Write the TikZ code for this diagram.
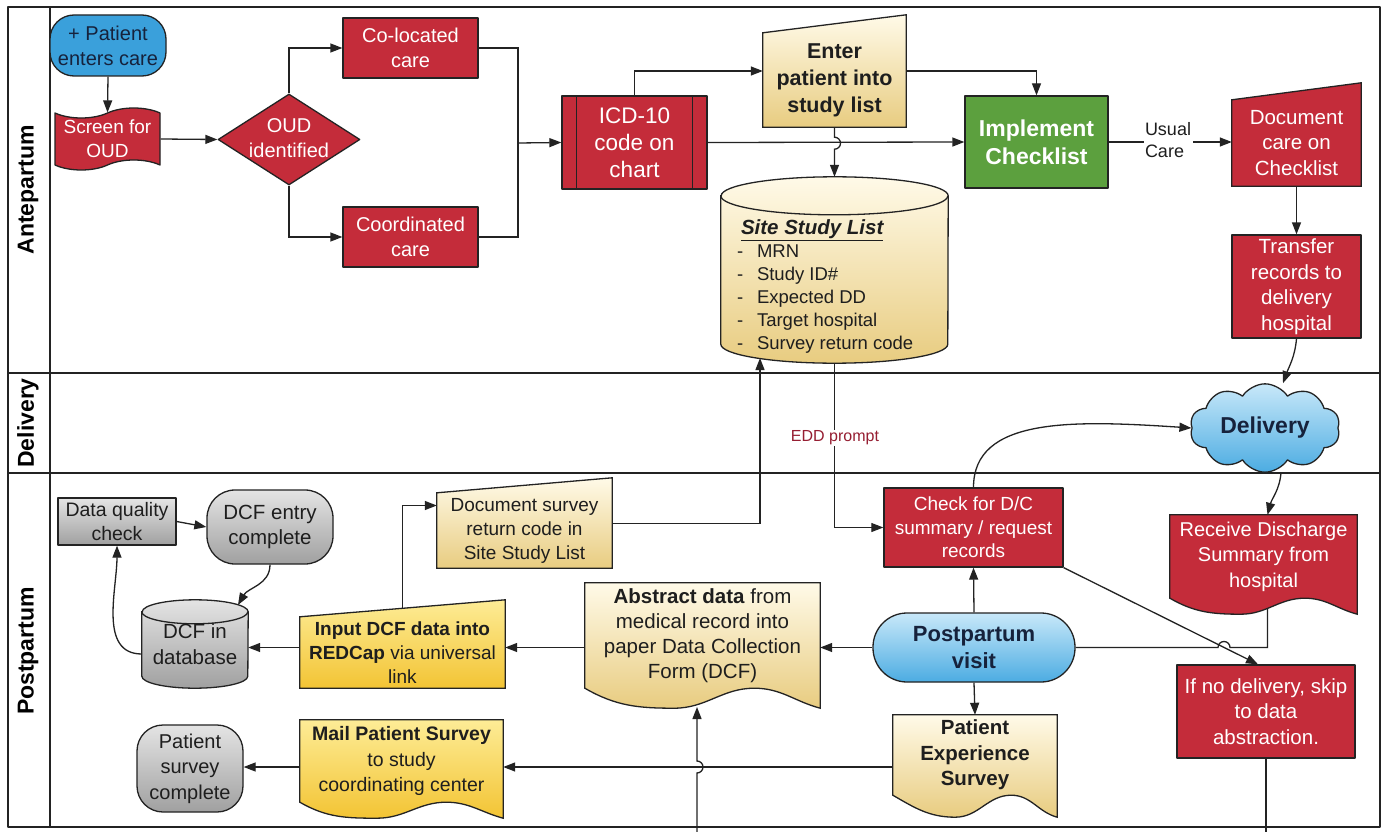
\documentclass[tikz,border=0pt]{standalone}
\usepackage{fontspec}
\setmainfont{Liberation Sans}
\usetikzlibrary{arrows.meta,calc,shapes.geometric,shapes.symbols,shapes.misc}
\pgfdeclarelayer{bgfill}
\pgfdeclarelayer{lines}
\pgfdeclarelayer{shapes}
\pgfsetlayers{bgfill,lines,shapes,main}

\definecolor{cred}{RGB}{196,44,58}
\definecolor{cblue}{RGB}{58,160,219}
\definecolor{cgreen}{RGB}{92,160,62}
\definecolor{cline}{RGB}{35,35,35}
\definecolor{ytop}{RGB}{255,250,232}
\definecolor{ybot}{RGB}{232,204,128}
\definecolor{gtop}{RGB}{253,236,150}
\definecolor{gbot}{RGB}{243,196,52}
\definecolor{grtop}{RGB}{228,228,228}
\definecolor{grbot}{RGB}{160,160,160}
\definecolor{btop}{RGB}{200,232,249}
\definecolor{bbot}{RGB}{76,172,226}
\definecolor{eddred}{RGB}{150,30,50}
\definecolor{dtext}{RGB}{30,30,30}
\definecolor{navy}{RGB}{22,34,60}

\newcommand{\fs}[2]{\fontsize{#1pt}{#2pt}\selectfont}
\newcommand{\itm}[1]{\makebox[20pt][l]{-}#1}
\newcommand\maninput[3]{\path[#3] (#1.south west) -- (#1.south east) -- ([yshift=#2pt]#1.north east) -- (#1.north west) -- cycle;}
\newcommand\docshape[3]{%
 \path[#3] (#1.north west) -- (#1.north east) -- ([yshift=-#2pt]#1.south east)
   to[out=165,in=0] ($(#1.south west)!0.72!(#1.south east)$)
   to[out=180,in=0] ($(#1.south west)!0.38!(#1.south east)+(0,#2)$)
   to[out=180,in=-30] (#1.south west) -- cycle;}
\newcommand\cylshape[4]{%
 \path[#4] ([yshift=-#3pt]#1.north west) -- ([yshift=#3pt]#1.south west)
   arc[start angle=180,end angle=360,x radius=#2pt,y radius=#3pt]
   -- ([yshift=-#3pt]#1.north east)
   arc[start angle=0,end angle=180,x radius=#2pt,y radius=#3pt] -- cycle;
 \draw[shp] ([yshift=-#3pt]#1.north west) arc[start angle=180,end angle=360,x radius=#2pt,y radius=#3pt];}

\tikzset{
 arr/.style={draw=cline, line width=1.3pt, -{Triangle[length=12pt,width=9pt]}},
 ln/.style={draw=cline, line width=1.3pt},
 shp/.style={draw=cline, line width=1.3pt},
 rbox/.style={shp, rectangle, fill=cred, text=white, align=center, inner sep=0pt},
 tnode/.style={rectangle, inner sep=0pt, align=center, text=dtext},
 lane/.style={rotate=90, font=\bfseries\fs{23}{28}},
 frame/.style={draw=cline, line width=1.4pt},
 ylw/.style={shp, top color=ytop, bottom color=ybot},
 gld/.style={shp, top color=gtop, bottom color=gbot},
 gry/.style={shp, top color=grtop, bottom color=grbot},
}

\begin{document}
\begin{tikzpicture}[x=1pt, y=-1pt, line join=round]
\useasboundingbox (0,0) rectangle (1382,832);
\begin{pgfonlayer}{bgfill}
\fill[white] (0,0) rectangle (1382,832);
\end{pgfonlayer}

% frame and lanes
\draw[frame] (8,7) rectangle (1380,827);
\draw[frame] (50,7) -- (50,827);
\draw[frame] (8,373) -- (1380,373);
\draw[frame] (8,473) -- (1380,473);
\node[lane] (laneA) at (28,190) {Antepartum};
\node[lane] (laneD) at (28,423) {Delivery};
\node[lane] (laneP) at (28,651) {Postpartum};

% ---------- Antepartum ----------
\node[shp, rectangle, rounded corners=24pt, fill=cblue, minimum width=116pt, minimum height=61pt,
      align=center, text=navy, font=\fs{20}{25}, inner sep=0pt] (start) at (108,45.5) {+ Patient\\enters care};
\node[shp, tape, tape bend top=in and out, tape bend bottom=in and out, tape bend height=10pt,
      fill=cred, text=white, minimum width=105pt, minimum height=62pt, align=center,
      font=\fs{19}{24}, inner sep=0pt] (screen) at (107.5,139) {Screen for\\OUD};
\node[shp, diamond, fill=cred, text=white, minimum width=142pt, minimum height=91pt, inner sep=0pt,
      font=\fs{20}{25}] (oud) at (289,139.5)
      {\makebox[0pt]{\raisebox{-6pt}[0pt][0pt]{\begin{tabular}{@{}c@{}}OUD\\identified\end{tabular}}}};
\node[rbox, minimum width=135pt, minimum height=60pt, font=\fs{20}{25}] (coloc) at (410.5,48) {Co-located\\care};
\node[rbox, minimum width=135pt, minimum height=60pt, font=\fs{20}{25}] (coord) at (410.5,237) {Coordinated\\care};
\coordinate (jx) at (518,143);
\node[rbox, minimum width=145pt, minimum height=93pt, font=\fs{22.5}{27}] (icd) at (634.5,142.5) {ICD-10\\code on\\chart};
\draw[shp] ([xshift=15pt]icd.north west) -- ([xshift=15pt]icd.south west);
\draw[shp] ([xshift=-15pt]icd.north east) -- ([xshift=-15pt]icd.south east);

\node[tnode, minimum width=143pt, minimum height=94pt, font=\bfseries\fs{21.5}{27}] (enter) at (834.5,80) {Enter\\patient into\\study list};
\node[tnode, minimum width=227pt, minimum height=186pt] (site) at (834.5,270) {};
\node[tnode, align=left, anchor=north west, font=\fs{18.5}{23}] (sitetxt) at ([xshift=16pt,yshift=-43pt]site.north west)
  {\hspace{4pt}{\bfseries\itshape\fs{20.5}{25}\underline{Site Study List}}\\
   \itm{MRN}\\ \itm{Study ID\#}\\ \itm{Expected DD}\\ \itm{Target hospital}\\ \itm{Survey return code}};
\node[shp, rectangle, fill=cgreen, text=white, minimum width=143pt, minimum height=92pt,
      font=\bfseries\fs{23}{28}, align=center, inner sep=0pt] (impl) at (1036.5,142) {Implement\\Checklist};
\node[tnode, minimum width=129pt, minimum height=86pt, text=white, font=\fs{20.5}{25.5}] (doccare) at (1296.5,143) {Document\\care on\\Checklist};
\node[rbox, minimum width=129pt, minimum height=103pt, font=\fs{20.5}{25.5}] (transfer) at (1296.5,286.5) {Transfer\\records to\\delivery\\hospital};
\node[fill=white, inner sep=1.5pt, align=left, font=\fs{18}{22}, text=dtext] (usual) at (1168,140) {Usual\\Care};

% ---------- Delivery ----------
\node[shp, cloud, cloud puffs=10, cloud puff arc=115, aspect=1.8, top color=btop, bottom color=bbot,
      minimum width=150pt, minimum height=85pt, inner sep=0pt, font=\bfseries\fs{23}{28}, text=navy] (cloud) at (1265,428) {Delivery};
\node[fill=white, inner sep=1pt, font=\fs{16}{20}, text=eddred] (edd) at (835,438) {EDD prompt};

% ---------- Postpartum ----------
\node[gry, rectangle, minimum width=118pt, minimum height=47pt, inner sep=0pt, align=center,
      font=\fs{19.5}{23.5}, text=dtext] (dq) at (117,521.5) {Data quality\\check};
\node[gry, rectangle, rounded corners=28pt, minimum width=126pt, minimum height=74pt, inner sep=0pt,
      align=center, font=\fs{20.5}{25.5}, text=dtext] (dcfentry) at (270,527) {DCF entry\\complete};
\node[tnode, minimum width=106pt, minimum height=88pt, font=\fs{20.5}{25.5}] (dcfdb) at (195,644) {DCF in\\database};
\node[tnode, minimum width=205pt, minimum height=71pt, font=\fs{19}{24}] (input) at (402.5,652.5)
  {\textbf{Input DCF data into}\\\textbf{REDCap} via universal\\link};
\node[tnode, minimum width=175pt, minimum height=75pt, font=\fs{19}{24}] (docsurv) at (524.5,530.5)
  {Document survey\\return code in\\Site Study List};
\node[tnode, minimum width=235pt, minimum height=105pt, font=\fs{20.5}{25}] (abstract) at (702.5,635.5)
  {\textbf{Abstract data} from\\medical record into\\paper Data Collection\\Form (DCF)};
\node[rbox, minimum width=179pt, minimum height=79pt, font=\fs{19}{23.5}] (check) at (973.5,527.5)
  {Check for D/C\\summary / request\\records};
\node[tnode, text=white, minimum width=187pt, minimum height=83pt, font=\fs{20}{25.5}] (receive) at (1263.5,556.5)
  {Receive Discharge\\Summary from\\hospital};
\node[shp, rectangle, rounded corners=34pt, top color=btop, bottom color=bbot, minimum width=202pt,
      minimum height=69pt, inner sep=0pt, align=center, font=\bfseries\fs{22}{27}, text=navy] (visit) at (974,647.5) {Postpartum\\visit};
\node[rbox, minimum width=178pt, minimum height=93pt, font=\fs{20.5}{25.5}] (nodeliv) at (1266,711.5)
  {If no delivery, skip\\to data\\abstraction.};
\node[tnode, minimum width=164pt, minimum height=80pt, font=\bfseries\fs{20.5}{25.5}] (patexp) at (975,755)
  {Patient\\Experience\\Survey};
\node[tnode, minimum width=203pt, minimum height=82pt, font=\fs{19.5}{25.5}] (mail) at (401.5,761)
  {\textbf{Mail Patient Survey}\\to study\\coordinating center};
\node[gry, rectangle, rounded corners=26pt, minimum width=106pt, minimum height=87pt, inner sep=0pt,
      align=center, font=\fs{20}{25.5}, text=dtext] (psc) at (190,768.5) {Patient\\survey\\complete};

% ---------- custom shapes ----------
\begin{pgfonlayer}{shapes}
\maninput{enter}{18}{ylw}
\cylshape{site}{113.5}{19}{ylw}
\maninput{doccare}{17}{shp, fill=cred}
\cylshape{dcfdb}{53}{12}{gry}
\maninput{input}{17}{gld}
\maninput{docsurv}{15}{ylw}
\docshape{abstract}{20}{ylw}
\docshape{receive}{16}{shp, fill=cred}
\docshape{patexp}{22}{ylw}
\docshape{mail}{16}{gld}
\end{pgfonlayer}

% ---------- connectors ----------
\coordinate (sitein) at (760,358);
\coordinate (hop1) at (1230,647.5);
\coordinate (dbin) at (238,605);
\coordinate (ndout) at (1266,832);
\coordinate (abin) at (697,832);
\coordinate (abhop) at (697,773);
\coordinate (abtip) at (697,707);
\coordinate (pe) at ([yshift=-12pt]patexp.west);
\begin{pgfonlayer}{lines}
\draw[arr] (start.south) -- (screen.north);
\draw[arr] (screen.east) -- (oud.west);
\draw[arr] (oud.north) |- (coloc.west);
\draw[arr] (oud.south) |- (coord.west);
\draw[ln] (coloc.east) -| (jx);
\draw[ln] (coord.east) -| (jx);
\draw[arr] (jx) -- (icd.west);
\draw[arr] (icd.north) |- ([yshift=9pt]enter.west);
\draw[arr] ([yshift=9pt]enter.east) -| (impl.north);
\draw[arr] (icd.east) -- (impl.west);
\draw[arr] (enter.south) -- ([yshift=-10pt]enter.south) arc[start angle=90,end angle=-90,radius=6pt] -- (site.north);
\draw[arr] (impl.east) -- (impl.east -| doccare.west);
\draw[arr] (doccare.south) -- (transfer.north);
\draw[arr] (transfer.south) to[out=-95,in=70] ([xshift=18pt]cloud.north);
\draw[arr, line width=1pt] (site.south) |- (check.west);
\draw[arr] ([yshift=7pt]docsurv.east) -| (sitein);
\draw[arr] (check.north) .. controls +(0,-70) and +(-120,-8) .. (cloud.west);
\draw[arr] ([xshift=16pt]cloud.south) to[out=-95,in=75] ([xshift=4pt]receive.north);
\draw[ln] ([xshift=4pt]receive.south) |- (hop1) arc[start angle=0,end angle=180,radius=6pt] -- (visit.east);
\draw[arr] (check.south east) -- ([xshift=-8pt]nodeliv.north);
\draw[arr] (visit.north) -- (check.south);
\draw[arr] (visit.south) -- (patexp.north);
\draw[arr] (visit.west) -- (visit.west -| abstract.east);
\draw[arr] (abstract.west |- visit.west) -- (visit.west -| input.east);
\draw[arr] (input.west |- visit.west) -- (visit.west -| dcfdb.east);
\draw[arr] (input.north) |- ([yshift=25pt]docsurv.west);
\draw[arr] ([yshift=-10pt]dcfdb.west) to[out=180,in=-90] (dq.south);
\draw[arr] (dq.east) -- (dcfentry.west);
\draw[arr] (dcfentry.south) to[out=-90,in=60] (dbin);
\draw[ln] (nodeliv.south) -- (ndout);
\draw[arr] (abin) -- (abhop) arc[start angle=-90,end angle=90,radius=6pt] -- (abtip);
\draw[arr] (pe) -- (pe -| mail.east);
\draw[arr] (pe -| mail.west) -- (pe -| psc.east);
\end{pgfonlayer}
\end{tikzpicture}
\end{document}
